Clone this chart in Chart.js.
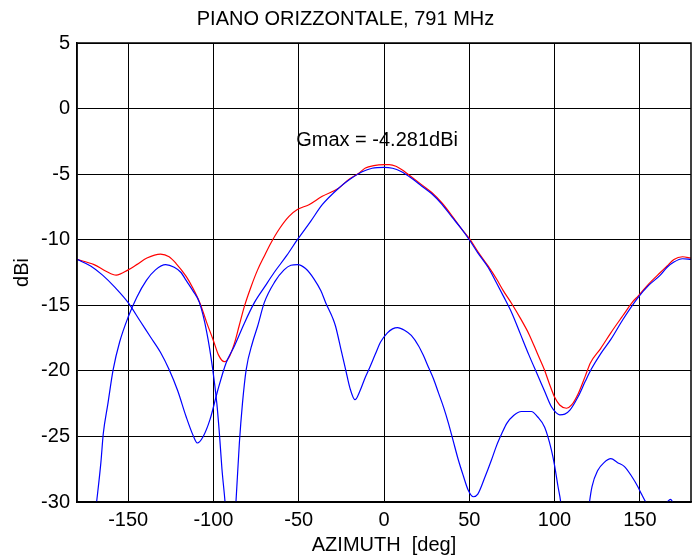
<!DOCTYPE html>
<html>
<head>
<meta charset="utf-8">
<script src="https://cdn.jsdelivr.net/npm/chart.js@4"></script>
<style>
  html, body { margin: 0; padding: 0; background: #fff; }
</style>
</head>
<body>
<canvas id="pattern" width="692" height="560"></canvas>
<script>
// total gain (red)
const totalAz = [-180, -170, -163, -157, -150, -145, -139, -131, -126, -122, -116, -112, -108, -104, -100, -97, -93.6, -91, -87.7, -85, -81.9, -78, -74.1, -70, -66.3, -61.5, -55.7, -50.8, -44, -36.2, -26.4, -20.6, -15, -10.9, -6, 0, 3, 7, 12, 16, 22, 28, 34, 40, 45, 50, 55, 61, 66, 70, 75, 80, 85, 90, 94, 97, 100, 103, 107, 110, 114, 118, 121, 127, 133, 140, 146, 149, 155, 162, 166, 170, 175, 180];
const totalDb = [-11.5, -11.9, -12.4, -12.7, -12.3, -11.9, -11.4, -11.1, -11.3, -11.8, -12.8, -13.7, -14.8, -16.3, -17.7, -18.8, -19.3, -19.0, -17.9, -16.6, -15.1, -13.6, -12.3, -11.2, -10.25, -9.2, -8.22, -7.7, -7.33, -6.69, -6.05, -5.4, -4.95, -4.53, -4.35, -4.28, -4.28, -4.4, -4.8, -5.2, -5.8, -6.4, -7.2, -8.2, -9.1, -9.9, -10.9, -12.0, -13.0, -13.9, -14.9, -16.0, -17.2, -18.7, -19.9, -21.0, -22.0, -22.6, -22.85, -22.6, -21.7, -20.4, -19.4, -18.3, -17.1, -15.8, -14.7, -14.3, -13.4, -12.5, -12.0, -11.5, -11.3, -11.4];

// co-polar component (blue)
const coAz = [-180, -172, -165, -158, -150, -143, -137, -131, -126, -121, -116, -112, -109.5, -106, -102, -97.5, -92.6, -87.7, -82, -76, -70, -64.4, -57, -50.8, -43, -36.2, -26.4, -20.6, -12.8, -7, 0, 5, 10, 16, 22, 28, 34, 40, 45, 50, 55, 61, 66, 70, 75, 80, 85, 90, 94, 98, 101, 103, 106, 109, 113.7, 118, 121.4, 127, 133, 140, 148.7, 155, 162, 166, 170, 175, 180];
const coDb = [-11.5, -12.0, -12.7, -13.6, -14.8, -16.2, -17.4, -18.6, -19.9, -21.5, -23.5, -24.9, -25.5, -25.0, -23.7, -21.5, -19.4, -18.1, -16.4, -14.8, -13.6, -12.5, -11.2, -10.0, -8.6, -7.33, -6.05, -5.45, -4.82, -4.55, -4.48, -4.55, -4.8, -5.3, -5.9, -6.5, -7.3, -8.3, -9.1, -10.0, -11.0, -12.1, -13.3, -14.3, -15.6, -17.2, -18.8, -20.3, -21.5, -22.7, -23.2, -23.35, -23.3, -23.0, -22.0, -20.8, -19.9, -18.7, -17.6, -16.1, -14.45, -13.5, -12.7, -12.1, -11.7, -11.45, -11.5];

// cross-polar component (blue)
const crossAz = [-180, -172, -168.5, -166, -164.6, -162, -158.8, -155, -150, -145, -139.3, -134, -128, -123, -119, -116, -112, -108.2, -104, -100.4, -98, -96.5, -95, -93.2, -91, -89, -86.8, -84.8, -83, -80.8, -77, -74.1, -70.2, -64, -58.6, -54.6, -50.6, -46, -41, -37, -34.2, -30, -28.4, -25, -22.5, -20, -17, -14, -11, -8.9, -5, -2, 2, 5, 8, 12, 16, 20.3, 23, 26, 29, 32, 35, 37.8, 40.5, 43.6, 46.5, 49.4, 52.4, 55, 59.2, 63, 66, 69, 72, 76, 80.6, 86.4, 90, 94.2, 98.1, 100, 102, 103.6, 106, 118, 120.5, 122, 125.3, 129, 133, 137, 141, 145, 148.7, 151, 153.5, 158, 163, 166, 168, 170, 173, 180];
const crossDb = [-40, -34, -30, -27, -24.8, -22.6, -19.9, -17.8, -15.9, -14.4, -13.1, -12.3, -11.9, -12.1, -12.5, -13.1, -13.9, -14.8, -17.0, -19.9, -22.5, -24.8, -27.5, -30, -34, -34, -30, -25.5, -22.5, -19.9, -17.8, -16.6, -14.8, -13.2, -12.3, -11.95, -11.9, -12.2, -13.0, -13.9, -14.8, -16.0, -16.6, -18.5, -19.9, -21.3, -22.2, -21.5, -20.5, -19.9, -18.7, -17.8, -17.1, -16.8, -16.7, -16.9, -17.3, -18.1, -18.8, -19.7, -20.6, -21.7, -22.8, -24.0, -25.3, -26.8, -28.0, -29.1, -29.6, -29.4, -28.1, -26.8, -25.7, -24.8, -24.0, -23.4, -23.1, -23.1, -23.5, -24.3, -26.0, -27.2, -28.8, -30, -33, -33, -30, -28.8, -27.6, -27.0, -26.7, -27.0, -27.3, -28.0, -28.8, -29.4, -30, -30.6, -30.4, -30.0, -29.8, -30.2, -31, -33];

const xTicks = [-150, -100, -50, 0, 50, 100, 150];
const gmaxText = "Gmax = -4.281dBi";
const gmaxAt = { x: -51.5, y: -2.4 };

const family = "'Liberation Sans', Arial, Helvetica, sans-serif";
const fontSize = 20;

function points(az, db) {
  return az.map((a, i) => ({ x: a, y: db[i] }));
}

const framePlugin = {
  id: "frame",
  afterDatasetsDraw(chart) {
    const c = chart.ctx;
    const a = chart.chartArea;
    c.save();
    c.fillStyle = "#000";
    c.font = fontSize + "px " + family;
    c.textAlign = "left";
    c.textBaseline = "middle";
    c.fillText(gmaxText, chart.scales.x.getPixelForValue(gmaxAt.x), chart.scales.y.getPixelForValue(gmaxAt.y));
    c.strokeStyle = "#000";
    c.lineWidth = 1.5;
    c.strokeRect(a.left, a.top, a.right - a.left, a.bottom - a.top);
    c.restore();
  }
};

const lineStyle = {
  pointRadius: 0,
  borderWidth: 1.2,
  fill: false,
  cubicInterpolationMode: "monotone",
  clip: 0
};

new Chart(document.getElementById("pattern").getContext("2d"), {
  type: "line",
  data: {
    datasets: [
      Object.assign({ label: "cross", data: points(crossAz, crossDb), borderColor: "#0000ff" }, lineStyle),
      Object.assign({ label: "co", data: points(coAz, coDb), borderColor: "#0000ff" }, lineStyle),
      Object.assign({ label: "total", data: points(totalAz, totalDb), borderColor: "#ff0000" }, lineStyle)
    ]
  },
  options: {
    responsive: false,
    animation: false,
    layout: { padding: { left: 0, right: 1, top: 0, bottom: 0 } },
    plugins: {
      legend: { display: false },
      tooltip: { enabled: false },
      title: {
        display: true,
        text: "PIANO ORIZZONTALE, 791 MHz",
        color: "#000",
        font: { family: family, size: fontSize, weight: "normal" },
        padding: { top: 7, bottom: 12 }
      }
    },
    scales: {
      x: {
        type: "linear",
        min: -180,
        max: 180,
        afterBuildTicks: (s) => { s.ticks = xTicks.map((v) => ({ value: v })); },
        afterFit: (s) => { s.height = 58; },
        grid: { color: "#000", lineWidth: 1, drawTicks: false },
        border: { color: "#000", width: 1.5 },
        ticks: { color: "#000", font: { family: family, size: fontSize }, padding: 6, maxRotation: 0, autoSkip: false },
        title: { display: true, text: "AZIMUTH  [deg]", color: "#000", font: { family: family, size: fontSize }, padding: { top: 0, bottom: 3 } }
      },
      y: {
        min: -30,
        max: 5,
        afterFit: (s) => { s.width = 77; },
        grid: { color: "#000", lineWidth: 1, drawTicks: false },
        border: { color: "#000", width: 1.5 },
        ticks: { stepSize: 5, color: "#000", font: { family: family, size: fontSize }, padding: 7 },
        title: { display: true, text: "dBi", color: "#000", font: { family: family, size: fontSize }, padding: { top: 10, bottom: 0 } }
      }
    }
  },
  plugins: [framePlugin]
});
</script>
</body>
</html>
